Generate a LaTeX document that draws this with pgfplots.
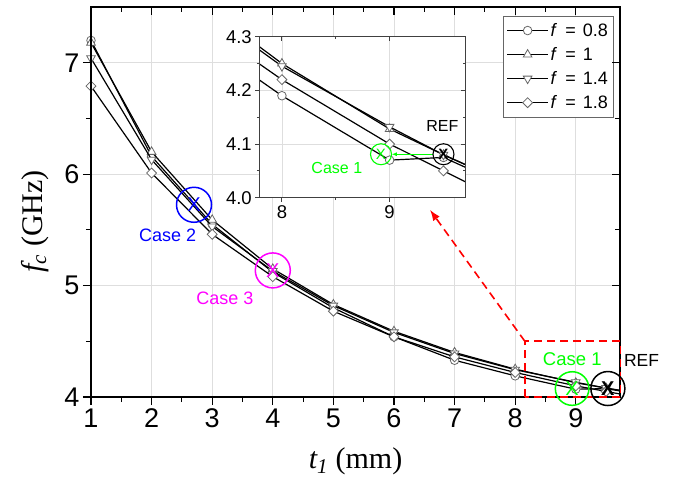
\documentclass[border=0pt]{standalone}
\usepackage{pgfplots}
\pgfplotsset{compat=1.18}
\usepackage{pgfplotstable}
\usepackage{fontspec}
\setmainfont{Liberation Sans}
\newfontfamily\tms{Liberation Serif}
\usetikzlibrary{arrows.meta}
\definecolor{mag}{RGB}{255,0,255}
\definecolor{grn}{RGB}{0,255,0}
\definecolor{blu}{RGB}{0,0,255}
\definecolor{rd}{RGB}{255,0,0}

\pgfplotstableread{
x a b c d
1 7.20 7.18 7.04 6.79
2 6.16 6.20 6.13 6.01
3 5.55 5.59 5.53 5.46
4 5.12 5.15 5.13 5.08
5 4.80 4.83 4.82 4.77
6 4.54 4.59 4.58 4.54
7 4.33 4.40 4.39 4.36
8 4.19 4.25 4.245 4.22
9 4.07 4.128 4.132 4.10
9.5 4.075 4.08 4.08 4.05
10 4.03 4.035 4.035 4.00
}\data

\pgfplotsset{
  ser/.style={black, line width=1.2pt},
  mkA/.style={ser, mark=*, mark size=4.3pt, mark options={draw=black!60, fill=white, line width=0.8pt, solid}},
  mkB/.style={ser, mark=triangle*, mark size=5pt, mark options={draw=black!60, fill=white, line width=0.8pt, solid}},
  mkC/.style={ser, mark=triangle*, mark size=5pt, mark options={draw=black!60, fill=white, line width=0.8pt, solid, rotate=180}},
  mkD/.style={ser, mark=square*, mark size=3.5pt, mark options={draw=black!60, fill=white, line width=0.8pt, solid, rotate=45}},
}
\newcommand{\fe}[1]{\textit{f}\hspace{3pt} =\hspace{2pt} #1}

\begin{document}
\begin{tikzpicture}
\path[use as bounding box] (-91pt,-88pt) rectangle (584pt,397pt);

% main axis
\begin{axis}[
  at={(0,0)}, anchor=south west,
  width=529pt, height=390pt, scale only axis,
  xmin=1, xmax=9.73, ymin=4, ymax=7.5,
  xtick={1,...,9}, ytick={4,5,6,7},
  minor x tick num=1, minor y tick num=1,
  tick align=outside, xtick pos=left, ytick pos=left,
  major tick length=8pt, minor tick length=5pt,
  grid=major, major grid style={black!13, line width=0.6pt},
  axis line style={line width=1.1pt},
  every tick/.style={black, line width=1.1pt},
  /pgf/number format/assume math mode=true,
  ticklabel style={font=\fontsize{27}{27}\selectfont},
  xlabel={\tms\itshape t\textsubscript{1}\upshape\ (mm)},
  ylabel={\tms\itshape f\textsubscript{c}\upshape\ (GHz)},
  label style={font=\fontsize{30}{30}\selectfont},
  xlabel style={at={(axis description cs:0.5,0)}, anchor=center, yshift=-64pt},
  ylabel style={at={(axis description cs:-0.106,0.45)}, anchor=center},
  clip mode=individual,
  legend cell align=left,
  legend style={at={(0.987,0.977)}, anchor=north east, draw=black!60, line width=0.6pt,
     font=\fontsize{18}{20}\selectfont, inner xsep=3pt, inner ysep=5pt, row sep=5.5pt},
  legend image code/.code={\draw[mark repeat=2, mark phase=2] plot coordinates {(0pt,0pt)(20.5pt,0pt)(41pt,0pt)};},
]
\addplot[mkA] table[x=x, y=a] {\data};
\addplot[mkB] table[x=x, y=b] {\data};
\addplot[mkC] table[x=x, y=c] {\data};
\addplot[mkD] table[x=x, y=d] {\data};
\legend{\fe{0.8}, \fe{1}, \fe{1.4}, \fe{1.8}}
\end{axis}

% overlay axis: top/right ticks and annotations
\begin{axis}[
  at={(0,0)}, anchor=south west,
  width=529pt, height=390pt, scale only axis,
  xmin=1, xmax=9.73, ymin=4, ymax=7.5,
  xtick={1,...,9}, ytick={4,5,6,7},
  minor x tick num=1, minor y tick num=1,
  tick align=inside, xtick pos=right, ytick pos=right,
  xticklabels={}, yticklabels={},
  major tick length=8pt, minor tick length=5pt,
  axis line style={line width=1.1pt},
  every tick/.style={black, line width=1.1pt},
  clip=false,
]
\addplot[blu, only marks, mark=o, mark size=17.5pt, mark options={line width=1.5pt}] coordinates {(2.70,5.725)};
\node[blu, font=\fontsize{20}{20}\selectfont] at (axis cs:2.70,5.725) {X};
\node[blu, font=\fontsize{18}{18}\selectfont] at (axis cs:2.266,5.447) {Case 2};

\addplot[mag, only marks, mark=o, mark size=17.5pt, mark options={line width=1.5pt}] coordinates {(4.0,5.136)};
\node[mag, font=\fontsize{20}{20}\selectfont] at (axis cs:4.0,5.136) {X};
\node[mag, font=\fontsize{18}{18}\selectfont] at (axis cs:3.211,4.885) {Case 3};

\addplot[grn, only marks, mark=o, mark size=16.8pt, mark options={line width=1.5pt}] coordinates {(8.94,4.076)};
\node[grn, font=\fontsize{20}{20}\selectfont] at (axis cs:8.94,4.076) {X};
\node[grn, font=\fontsize{18.5}{18.5}\selectfont] at (axis cs:8.942,4.342) {Case 1};

\addplot[black, only marks, mark=o, mark size=17pt, mark options={line width=1.5pt}] coordinates {(9.53,4.076)};
\node[black, font=\bfseries\fontsize{20}{20}\selectfont] at (axis cs:9.53,4.076) {X};
\node[black, font=\fontsize{17.5}{17.5}\selectfont] at (axis cs:10.086,4.33) {REF};

\draw[rd, line width=1.6pt, dash pattern=on 8pt off 5pt] (axis cs:8.16,4.0) rectangle (axis cs:9.74,4.5);
\draw[rd, line width=1.6pt, dash pattern=on 8pt off 5pt, -{Latex[length=11pt,width=8pt]}] (axis cs:8.16,4.5) -- (axis cs:6.594,5.68);
\end{axis}

% inset
\begin{axis}[
  at={(168.3pt,199.3pt)}, anchor=south west,
  width=205.7pt, height=161pt, scale only axis,
  xmin=7.79, xmax=9.70, ymin=4.0, ymax=4.3,
  xtick={8,9}, ytick={4.0,4.1,4.2,4.3},
  minor x tick num=1, minor y tick num=1,
  tick align=outside, xtick pos=left, ytick pos=left,
  major tick length=4pt, minor tick length=2.5pt,
  axis background/.style={fill=white},
  grid=major, major grid style={black!13, line width=0.6pt},
  axis line style={line width=0.9pt, black!75},
  every tick/.style={black!75, line width=0.9pt},
  /pgf/number format/assume math mode=true,
  yticklabel style={/pgf/number format/fixed, /pgf/number format/fixed zerofill, /pgf/number format/precision=1},
  ticklabel style={font=\fontsize{18.5}{18.5}\selectfont},
  clip mode=individual,
]
\addplot[mkA] table[x=x, y=a] {\data};
\addplot[mkB] table[x=x, y=b] {\data};
\addplot[mkC] table[x=x, y=c] {\data};
\addplot[mkD] table[x=x, y=d] {\data};
\end{axis}

\begin{axis}[
  at={(168.3pt,199.3pt)}, anchor=south west,
  width=205.7pt, height=161pt, scale only axis,
  xmin=7.79, xmax=9.70, ymin=4.0, ymax=4.3,
  xtick={8,9}, ytick={4.0,4.1,4.2,4.3},
  minor x tick num=1, minor y tick num=1,
  tick align=inside, xtick pos=right, ytick pos=right,
  xticklabels={}, yticklabels={},
  major tick length=4pt, minor tick length=2.5pt,
  axis line style={line width=0.9pt, black!75},
  every tick/.style={black!75, line width=0.9pt},
  clip=false,
]
\draw[grn, line width=1pt, -{Latex[length=5pt,width=4pt]}] (axis cs:9.404,4.081) -- (axis cs:9.02,4.081);
\addplot[grn, only marks, mark=o, mark size=10.5pt, mark options={line width=1.1pt}] coordinates {(8.92,4.081)};
\node[grn, font=\fontsize{15}{15}\selectfont] at (axis cs:8.92,4.081) {X};
\node[grn, font=\fontsize{16}{16}\selectfont] at (axis cs:8.51,4.056) {Case 1};
\addplot[black, only marks, mark=o, mark size=10.5pt, mark options={line width=1.1pt}] coordinates {(9.50,4.081)};
\node[black, font=\bfseries\fontsize{15}{15}\selectfont] at (axis cs:9.50,4.081) {X};
\node[black, font=\fontsize{16}{16}\selectfont] at (axis cs:9.49,4.134) {REF};
\end{axis}
\end{tikzpicture}
\end{document}
